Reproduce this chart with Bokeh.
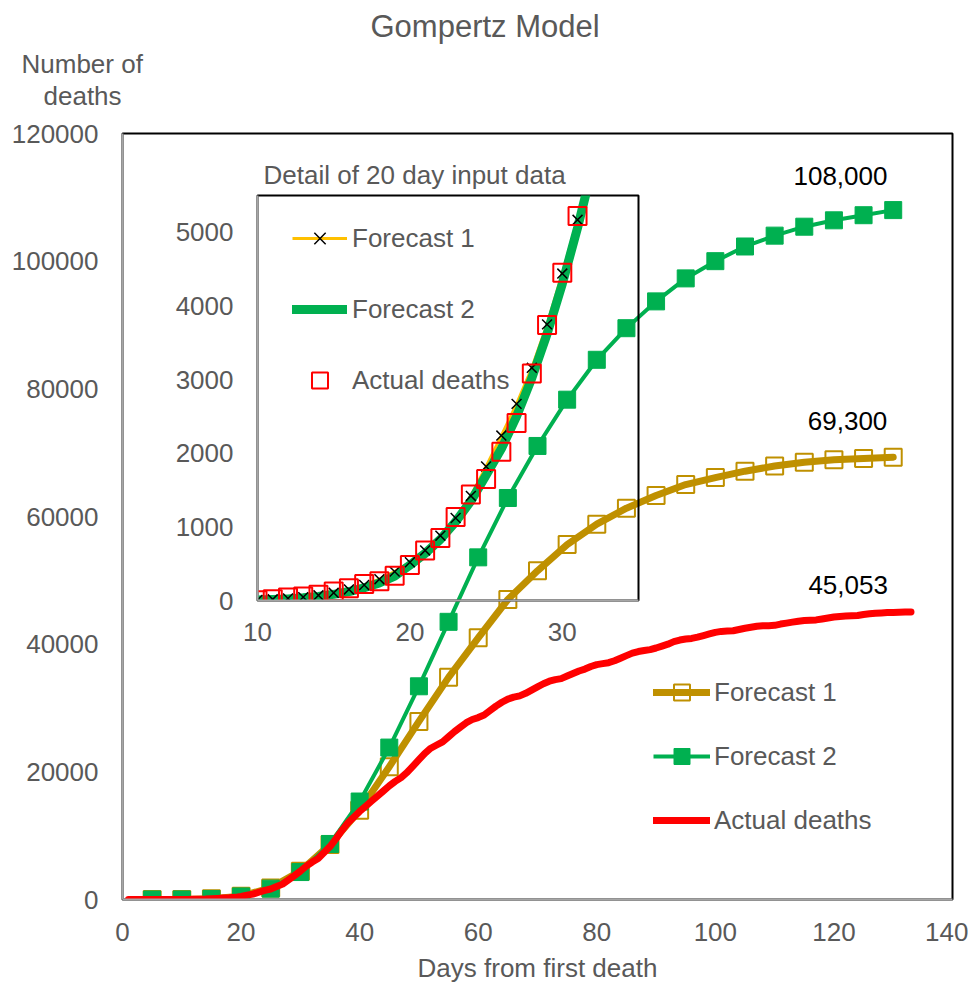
from bokeh.plotting import figure
from bokeh.models import (Range1d, FixedTicker, Legend, LegendItem, Label,
                          BasicTickFormatter, Title)
from bokeh.layouts import column
from bokeh.embed import file_html
from bokeh.resources import INLINE

FONT = "Liberation Sans"
GREY = "#595959"
GOLD = "#BF9000"
YELLOW = "#FFC000"
GREEN = "#00B050"
RED = "#FF0000"

# ---------------- data ----------------
# main chart: forecasts every 5 days
fc_days = [5, 10, 15, 20, 25, 30, 35, 40, 45, 50, 55, 60, 65, 70, 75, 80,
           85, 90, 95, 100, 105, 110, 115, 120, 125, 130]
forecast1 = [0, 8, 104, 520, 1820, 4440, 8600, 14000, 20800, 27900, 34800,
             41000, 47000, 51500, 55600, 58800, 61300, 63300, 65000, 66100,
             67100, 67900, 68500, 68900, 69100, 69300]
forecast2 = [0, 6, 84, 480, 1700, 4300, 8700, 15350, 23800, 33400, 43500,
             53600, 62900, 71050, 78300, 84550, 89500, 93700, 97300, 100000,
             102300, 104000, 105400, 106400, 107200, 108000]

# actual cumulative deaths, daily, day 1 .. 133
actual_days = list(range(1, 134))
actual = [1, 1, 1, 2, 2, 2, 3, 3, 4, 5,
          18, 40, 55, 78, 123, 168, 223, 260, 337, 483,
          680, 850, 1134, 1438, 1650, 2020, 2410, 3083, 3743, 4450,
          5220, 5860, 6420, 7350, 8300, 9500, 10800, 12000, 12900, 13800,
          14600, 15400, 16200, 17000, 17800, 18500, 19100, 19900, 20900, 21900,
          22900, 23700, 24200, 24700, 25500, 26300, 27000, 27700, 28200, 28500,
          28900, 29600, 30300, 30900, 31400, 31700, 31900, 32300, 32800, 33300,
          33800, 34200, 34450, 34600, 35000, 35400, 35800, 36100, 36500, 36800,
          36950, 37100, 37400, 37800, 38200, 38600, 38850, 39000, 39150, 39400,
          39700, 40000, 40400, 40650, 40800, 40900, 41100, 41350, 41600, 41850,
          42000, 42050, 42100, 42300, 42500, 42650, 42800, 42870, 42900, 42950,
          43150, 43300, 43450, 43600, 43700, 43750, 43800, 43950, 44100, 44250,
          44350, 44400, 44450, 44500, 44650, 44750, 44850, 44900, 44950, 44970,
          44990, 45030, 45053]

# inset: detail of the 20 day input data
inset_days = list(range(10, 32))
inset_actual = [5, 18, 40, 55, 78, 123, 168, 223, 260, 337, 483,
                680, 850, 1134, 1438, 1650, 2020, 2410, 3083, 3743, 4450, 5220]
inset_f1 = [8, 16, 28, 46, 70, 104, 150, 210, 290, 392, 520,
            680, 880, 1120, 1420, 1820, 2240, 2670, 3160, 3750, 4440, 5170]
inset_f2_days = list(range(10, 33))
inset_f2 = [6, 12, 22, 36, 56, 84, 122, 172, 238, 330, 480,
            640, 830, 1070, 1350, 1700, 2060, 2500, 3020, 3620, 4300, 5060, 5900]

x_ticks = [0, 20, 40, 60, 80, 100, 120, 140]
y_ticks = [0, 20000, 40000, 60000, 80000, 100000, 120000]
inset_x_ticks = [10, 20, 30]
inset_y_ticks = [0, 1000, 2000, 3000, 4000, 5000]

end_labels = ["108,000", "69,300", "45,053"]

W, H = 968, 985
BL, BR, BT, BB = 122, 16, 133, 83


def style_axes(fig, xt, yt, xstand):
    for ax, ticks in ((fig.xaxis[0], xt), (fig.yaxis[0], yt)):
        ax.ticker = FixedTicker(ticks=ticks)
        ax.major_tick_line_color = None
        ax.minor_tick_line_color = None
        ax.major_tick_out = 0
        ax.major_tick_in = 0
        ax.axis_line_color = "#A6A6A6"
        ax.axis_line_width = 2
        ax.major_label_text_font = FONT
        ax.major_label_text_font_size = "26px"
        ax.major_label_text_color = GREY
    fig.xaxis[0].major_label_standoff = xstand
    fig.yaxis[0].major_label_standoff = 24
    fig.yaxis[0].formatter = BasicTickFormatter(use_scientific=False)
    fig.grid.visible = False
    fig.outline_line_color = "black"
    fig.outline_line_width = 2


# ---------------- main figure ----------------
p = figure(width=W, height=H, x_range=Range1d(0, 140),
           y_range=Range1d(0, 120000), output_backend="svg",
           toolbar_location=None, title_location=None,
           min_border_left=BL, min_border_right=BR,
           min_border_top=BT, min_border_bottom=BB)
style_axes(p, x_ticks, y_ticks, 23)
p.xaxis.axis_label = "Days from first death"
p.xaxis.axis_label_text_font = FONT
p.xaxis.axis_label_text_font_size = "26px"
p.xaxis.axis_label_text_font_style = "normal"
p.xaxis.axis_label_text_color = GREY
p.xaxis.axis_label_standoff = 9

r1l = p.line(fc_days, forecast1, line_color=GOLD, line_width=7,
             line_cap="round", line_join="round")
r1m = p.scatter(fc_days, forecast1, marker="square", size=17,
                fill_color=None, line_color=GOLD, line_width=2)
r2l = p.line(fc_days, forecast2, line_color=GREEN, line_width=4,
             line_join="round")
r2m = p.scatter(fc_days, forecast2, marker="square", size=17,
                fill_color=GREEN, line_color=GREEN)
r3 = p.line(actual_days, actual, line_color=RED, line_width=7,
            line_cap="round", line_join="round")

legend = Legend(items=[LegendItem(label="Forecast 1", renderers=[r1l, r1m]),
                       LegendItem(label="Forecast 2", renderers=[r2l, r2m]),
                       LegendItem(label="Actual deaths", renderers=[r3])],
                location=(531, 59), glyph_width=57, glyph_height=40,
                label_height=40, spacing=24, padding=0, margin=0,
                label_standoff=4, border_line_color=None,
                background_fill_alpha=0, label_text_font=FONT,
                label_text_font_size="26px", label_text_color=GREY)
p.add_layout(legend)

# end-value labels (data units, above the final points)
for txt, xx, yy in zip(end_labels, [121.1, 122.3, 122.4], [113300, 74900, 49300]):
    p.add_layout(Label(x=xx, y=yy, text=txt, text_font=FONT,
                       text_font_size="26px", text_color="black",
                       text_align="center", text_baseline="middle"))

p.add_layout(Label(x=141, y=725, x_units="screen", y_units="screen",
                   text="Detail of 20 day input data", text_font=FONT,
                   text_font_size="26px", text_color=GREY, text_align="left",
                   text_baseline="middle"))

# titles stacked above the frame (first added = nearest to the frame)
def top_title(text, offset, size="26px", standoff=0):
    p.add_layout(Title(text=text, align="left", offset=offset, text_font=FONT,
                       text_font_size=size, text_font_style="normal",
                       text_color=GREY, standoff=standoff), "above")

top_title(" ", 0, size="10px", standoff=10)      # blank spacer row
top_title("deaths", -79)
top_title("Number of", -101)
top_title("Gompertz Model", 248, size="31px", standoff=6)

# ---------------- inset figure ----------------
IW_FRAME, IH_FRAME = 381, 405
q = figure(width=BL + IW_FRAME + BR, height=5 + IH_FRAME + 50,
           x_range=Range1d(10, 35), y_range=Range1d(0, 5500),
           output_backend="svg", toolbar_location=None, title_location=None,
           min_border_left=BL, min_border_right=BR,
           min_border_top=5, min_border_bottom=50)
q.background_fill_alpha = 0
q.border_fill_alpha = 0
style_axes(q, inset_x_ticks, inset_y_ticks, 22)

i1l = q.line(inset_days, inset_f1, line_color=YELLOW, line_width=3)
i2l = q.line(inset_f2_days, inset_f2, line_color=GREEN, line_width=9,
             line_cap="round", line_join="round")
i1m = q.scatter(inset_days, inset_f1, marker="x", size=14,
                line_color="black", line_width=1.5)
i3m = q.scatter(inset_days, inset_actual, marker="square", size=18,
                fill_color=None, line_color=RED, line_width=2)

ilegend = Legend(items=[LegendItem(label="Forecast 1", renderers=[i1l, i1m]),
                        LegendItem(label="Forecast 2", renderers=[i2l]),
                        LegendItem(label="Actual deaths", renderers=[i3m])],
                 location=(35, 200), glyph_width=55, glyph_height=40,
                 label_height=40, spacing=31, padding=0, margin=0,
                 label_standoff=5, border_line_color=None,
                 background_fill_alpha=0, label_text_font=FONT,
                 label_text_font_size="26px", label_text_color=GREY)
q.add_layout(ilegend)

# place the inset over the main plot (frame at 257,195 on the page)
q.margin = (190 - H, 0, 0, 257 - BL)

layout = column(p, q)
open("out.html", "w").write(file_html(layout, INLINE))
